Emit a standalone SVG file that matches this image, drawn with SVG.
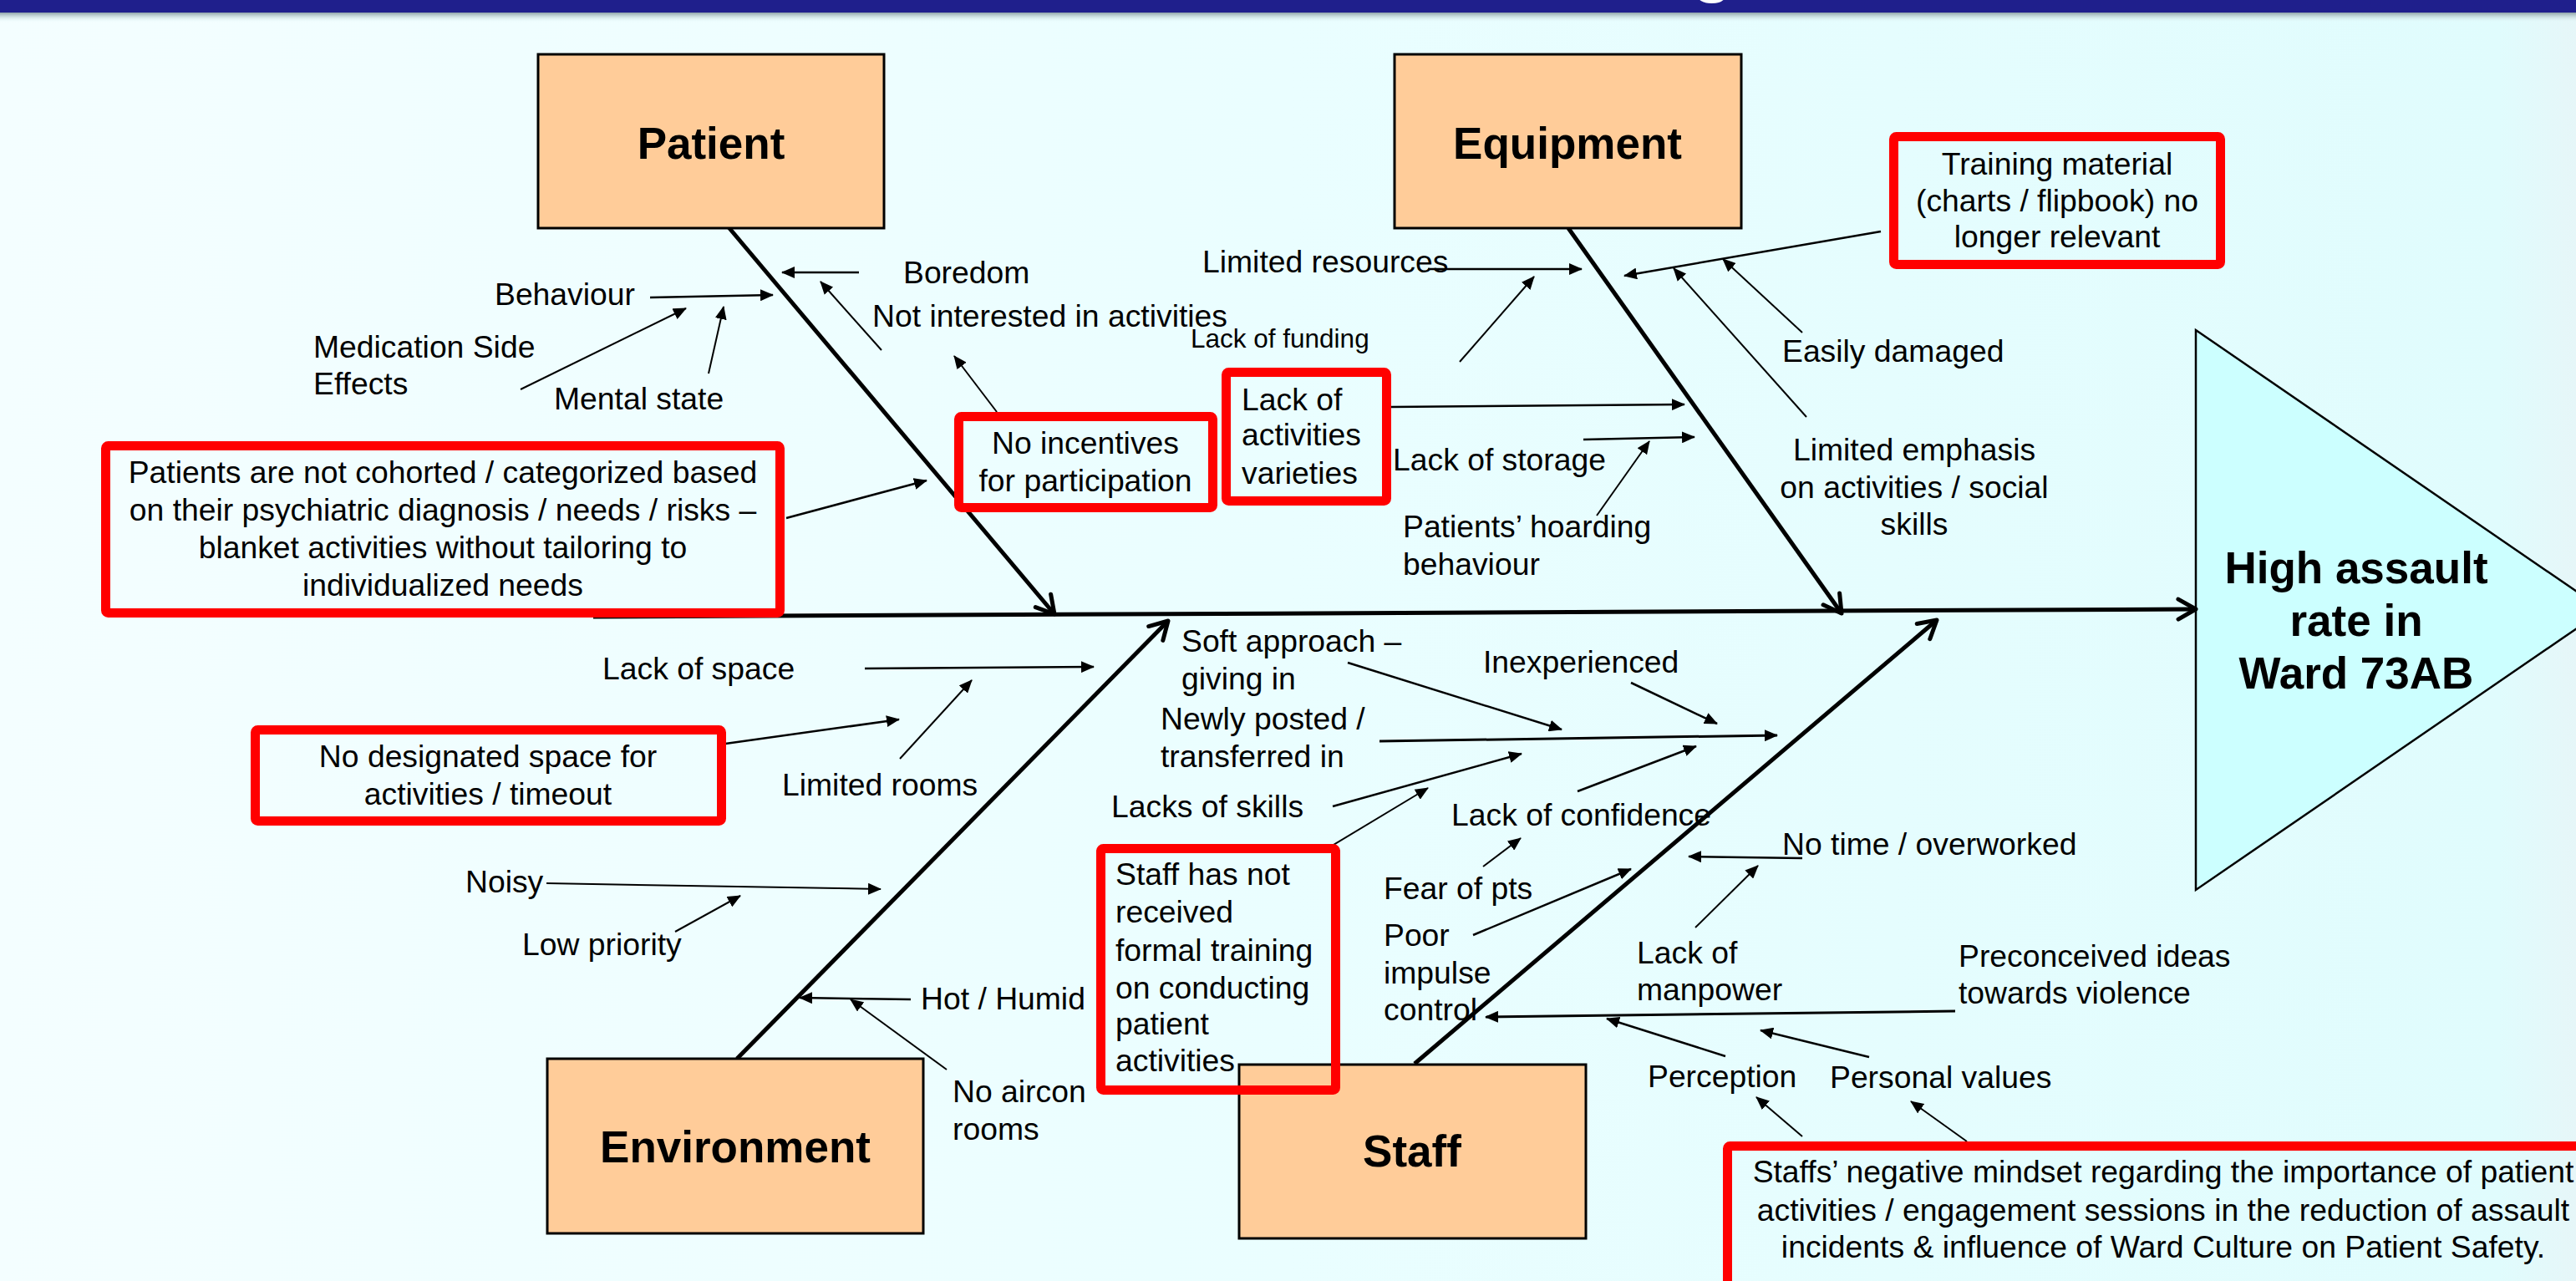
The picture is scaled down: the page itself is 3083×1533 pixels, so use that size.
<svg xmlns="http://www.w3.org/2000/svg" width="3083" height="1533" viewBox="0 0 3083 1533">
  <defs>
    <linearGradient id="bg" x1="0" y1="0" x2="1" y2="0">
      <stop offset="0" stop-color="#F4FEFF"/>
      <stop offset="0.5" stop-color="#EAFEFF"/>
      <stop offset="0.97" stop-color="#E0FCFD"/>
      <stop offset="1" stop-color="#E6F6F8"/>
    </linearGradient>
    <linearGradient id="shade" x1="0" y1="0" x2="0" y2="1">
      <stop offset="0" stop-color="#8FA3A8"/>
      <stop offset="1" stop-color="#EAFEFF" stop-opacity="0"/>
    </linearGradient>
    <!-- filled head for the small cause arrows -->
    <marker id="ah" viewBox="0 0 16 14" refX="15" refY="7" markerWidth="16" markerHeight="14" markerUnits="userSpaceOnUse" orient="auto">
      <path d="M0,0 L16,7 L0,14 z" fill="#000"/>
    </marker>
    <!-- open chevron head for the main bones and the spine -->
    <marker id="chev" viewBox="-30 -16 34 32" refX="0" refY="0" markerWidth="34" markerHeight="32" markerUnits="userSpaceOnUse" orient="auto">
      <path d="M-21,-12 L0,0 L-21,12" fill="none" stroke="#000" stroke-width="5" stroke-linecap="round" stroke-linejoin="round"/>
    </marker>
    <style>
      .t { font-family: "Liberation Sans", Arial, sans-serif; font-size: 37.3px; fill: #000; }
      .s { font-size: 31.5px; }
      .h { font-weight: bold; font-size: 53px; text-anchor: middle; }
      .m { text-anchor: middle; }
      .cat { fill: #FFCC99; stroke: #000; stroke-width: 3; }
      .red { fill: none; stroke: #FF0000; stroke-width: 11; }
      .bone { stroke: #000; stroke-width: 5; fill: none; marker-end: url(#chev); }
      .ar { stroke: #000; stroke-width: 2.5; fill: none; marker-end: url(#ah); }
      .th { stroke-width: 2; }
      .tk { stroke-width: 3; }
    </style>
  </defs>

  <!-- background and header band -->
  <rect x="0" y="0" width="3083" height="1533" fill="url(#bg)"/>
  <rect x="0" y="15" width="3083" height="12" fill="url(#shade)"/>
  <rect x="0" y="0" width="3083" height="15" fill="#1F1F8C"/>
  <text x="2025" y="-13" font-family="Liberation Sans, Arial, sans-serif" font-size="80" font-weight="bold" fill="#FFFFFF">g</text>

  <!-- effect head -->
  <g id="effect">
    <polygon points="2628,395 3116,730 2628,1065" fill="#CCFFFF" stroke="#000" stroke-width="2.5"/>
    <text class="t h" x="2820" y="698">High assault</text>
    <text class="t h" x="2820" y="761">rate in</text>
    <text class="t h" x="2820" y="824">Ward 73AB</text>
  </g>

  <!-- connectors -->
  <g id="connectors">
    <line class="bone" x1="710" y1="738" x2="2628" y2="729"/>
    <line class="bone" x1="872" y1="272" x2="1262" y2="735"/>
    <line class="bone" x1="1877" y1="273" x2="2204" y2="734"/>
    <line class="bone" x1="882" y1="1267" x2="1398" y2="743"/>
    <line class="bone" x1="1693" y1="1273" x2="2318" y2="742"/>

    <!-- patient side -->
    <line class="ar" x1="778" y1="356" x2="925" y2="353"/>
    <line class="ar th" x1="623" y1="466" x2="821" y2="369"/>
    <line class="ar th" x1="848" y1="447" x2="866" y2="367"/>
    <line class="ar" x1="1028" y1="326" x2="936" y2="326"/>
    <line class="ar th" x1="1055" y1="419" x2="982" y2="337"/>
    <line class="ar th" x1="1193" y1="493" x2="1142" y2="426"/>
    <line class="ar" x1="941" y1="620" x2="1109" y2="575"/>

    <!-- equipment side -->
    <line class="ar" x1="1709" y1="322" x2="1893" y2="322"/>
    <line class="ar th" x1="1747" y1="433" x2="1836" y2="331"/>
    <line class="ar" x1="1665" y1="487" x2="2016" y2="484"/>
    <line class="ar" x1="1895" y1="526" x2="2028" y2="523"/>
    <line class="ar th" x1="1911" y1="617" x2="1974" y2="528"/>
    <line class="ar" x1="2251" y1="277" x2="1944" y2="330"/>
    <line class="ar th" x1="2157" y1="398" x2="2062" y2="310"/>
    <line class="ar th" x1="2162" y1="499" x2="2003" y2="321"/>

    <!-- environment side -->
    <line class="ar" x1="1035" y1="800" x2="1309" y2="798"/>
    <line class="ar" x1="861" y1="891" x2="1076" y2="861"/>
    <line class="ar th" x1="1077" y1="908" x2="1163" y2="814"/>
    <line class="ar th" x1="654" y1="1057" x2="1054" y2="1064"/>
    <line class="ar th" x1="808" y1="1115" x2="886" y2="1072"/>
    <line class="ar" x1="1090" y1="1196" x2="957" y2="1194"/>
    <line class="ar th" x1="1133" y1="1280" x2="1018" y2="1196"/>

    <!-- staff side -->
    <line class="ar" x1="1613" y1="793" x2="1869" y2="873"/>
    <line class="ar" x1="1952" y1="817" x2="2055" y2="866"/>
    <line class="ar tk" x1="1651" y1="887" x2="2127" y2="880"/>
    <line class="ar" x1="1595" y1="965" x2="1821" y2="902"/>
    <line class="ar th" x1="1581" y1="1020" x2="1709" y2="943"/>
    <line class="ar" x1="1888" y1="947" x2="2030" y2="893"/>
    <line class="ar th" x1="1775" y1="1037" x2="1820" y2="1003"/>
    <line class="ar" x1="1763" y1="1119" x2="1952" y2="1040"/>
    <line class="ar" x1="2157" y1="1027" x2="2021" y2="1025"/>
    <line class="ar th" x1="2029" y1="1110" x2="2104" y2="1036"/>
    <line class="ar tk" x1="2340" y1="1210" x2="1778" y2="1217"/>
    <line class="ar" x1="2065" y1="1264" x2="1923" y2="1219"/>
    <line class="ar" x1="2237" y1="1265" x2="2107" y2="1233"/>
    <line class="ar th" x1="2157" y1="1360" x2="2102" y2="1313"/>
    <line class="ar th" x1="2354" y1="1366" x2="2287" y2="1318"/>
  </g>

  <!-- category boxes -->
  <g id="patient">
    <rect class="cat" x="644" y="65" width="414" height="208"/>
    <text class="t h" x="851" y="190">Patient</text>
  </g>
  <g id="equipment">
    <rect class="cat" x="1669" y="65" width="415" height="208"/>
    <text class="t h" x="1876" y="190">Equipment</text>
  </g>
  <g id="environment">
    <rect class="cat" x="655" y="1267" width="450" height="209"/>
    <text class="t h" x="880" y="1391">Environment</text>
  </g>
  <g id="staff">
    <rect class="cat" x="1483" y="1274" width="415" height="208"/>
    <text class="t h" x="1690" y="1396">Staff</text>
  </g>

  <!-- patient causes -->
  <g id="patient-causes">
    <text class="t" x="592" y="365">Behaviour</text>
    <text class="t" x="375" y="428">Medication Side</text>
    <text class="t" x="375" y="472">Effects</text>
    <text class="t" x="663" y="490">Mental state</text>
    <text class="t" x="1081" y="339">Boredom</text>
    <text class="t" x="1044" y="391">Not interested in activities</text>
  </g>
  <g id="no-incentives">
    <rect class="red" x="1147.5" y="498.5" width="304" height="109" rx="3"/>
    <text class="t m" x="1299" y="543">No incentives</text>
    <text class="t m" x="1299" y="588">for participation</text>
  </g>
  <g id="not-cohorted">
    <rect class="red" x="126.5" y="533.5" width="807" height="200" rx="3"/>
    <text class="t m" x="530" y="578">Patients are not cohorted / categorized based</text>
    <text class="t m" x="530" y="623">on their psychiatric diagnosis / needs / risks –</text>
    <text class="t m" x="530" y="668">blanket activities without tailoring to</text>
    <text class="t m" x="530" y="713">individualized needs</text>
  </g>

  <!-- equipment causes -->
  <g id="equipment-causes">
    <text class="t" x="1439" y="326">Limited resources</text>
    <text class="t s" x="1425" y="416">Lack of funding</text>
    <text class="t" x="1667" y="563">Lack of storage</text>
    <text class="t" x="1679" y="643">Patients’ hoarding</text>
    <text class="t" x="1679" y="688">behaviour</text>
    <text class="t" x="2133" y="433">Easily damaged</text>
    <text class="t m" x="2291" y="551">Limited emphasis</text>
    <text class="t m" x="2291" y="596">on activities / social</text>
    <text class="t m" x="2291" y="640">skills</text>
  </g>
  <g id="activity-variety">
    <rect class="red" x="1467.5" y="445.5" width="192" height="154" rx="3"/>
    <text class="t" x="1486" y="491">Lack of</text>
    <text class="t" x="1486" y="533">activities</text>
    <text class="t" x="1486" y="579">varieties</text>
  </g>
  <g id="training-material">
    <rect class="red" x="2266.5" y="163.5" width="391" height="153" rx="3"/>
    <text class="t m" x="2462" y="209">Training material</text>
    <text class="t m" x="2462" y="253">(charts / flipbook) no</text>
    <text class="t m" x="2462" y="296">longer relevant</text>
  </g>

  <!-- environment causes -->
  <g id="environment-causes">
    <text class="t" x="721" y="813">Lack of space</text>
    <text class="t" x="936" y="952">Limited rooms</text>
    <text class="t" x="557" y="1068">Noisy</text>
    <text class="t" x="625" y="1143">Low priority</text>
    <text class="t" x="1102" y="1208">Hot / Humid</text>
    <text class="t" x="1140" y="1319">No aircon</text>
    <text class="t" x="1140" y="1364">rooms</text>
  </g>
  <g id="no-space">
    <rect class="red" x="305.5" y="873.5" width="558" height="109" rx="3"/>
    <text class="t m" x="584" y="918">No designated space for</text>
    <text class="t m" x="584" y="963">activities / timeout</text>
  </g>

  <!-- staff causes -->
  <g id="staff-causes">
    <text class="t" x="1414" y="780">Soft approach –</text>
    <text class="t" x="1414" y="825">giving in</text>
    <text class="t" x="1775" y="805">Inexperienced</text>
    <text class="t" x="1389" y="873">Newly posted /</text>
    <text class="t" x="1389" y="918">transferred in</text>
    <text class="t" x="1330" y="978">Lacks of skills</text>
    <text class="t" x="1737" y="988">Lack of confidence</text>
    <text class="t" x="1656" y="1076">Fear of pts</text>
    <text class="t" x="1656" y="1132">Poor</text>
    <text class="t" x="1656" y="1177">impulse</text>
    <text class="t" x="1656" y="1221">control</text>
    <text class="t" x="2133" y="1023">No time / overworked</text>
    <text class="t" x="1959" y="1153">Lack of</text>
    <text class="t" x="1959" y="1197">manpower</text>
    <text class="t" x="2344" y="1157">Preconceived ideas</text>
    <text class="t" x="2344" y="1201">towards violence</text>
    <text class="t" x="1972" y="1301">Perception</text>
    <text class="t" x="2190" y="1302">Personal values</text>
  </g>
  <g id="no-training">
    <rect class="red" x="1317.5" y="1015.5" width="281" height="289" rx="3"/>
    <text class="t" x="1335" y="1059">Staff has not</text>
    <text class="t" x="1335" y="1104">received</text>
    <text class="t" x="1335" y="1150">formal training</text>
    <text class="t" x="1335" y="1195">on conducting</text>
    <text class="t" x="1335" y="1238">patient</text>
    <text class="t" x="1335" y="1282">activities</text>
  </g>
  <g id="negative-mindset">
    <rect class="red" x="2067.5" y="1371.5" width="1100" height="300" rx="3"/>
    <text class="t m" x="2589" y="1415">Staffs’ negative mindset regarding the importance of patient</text>
    <text class="t m" x="2589" y="1461">activities / engagement sessions in the reduction of assault</text>
    <text class="t m" x="2589" y="1505">incidents &amp; influence of Ward Culture on Patient Safety.</text>
  </g>
</svg>
